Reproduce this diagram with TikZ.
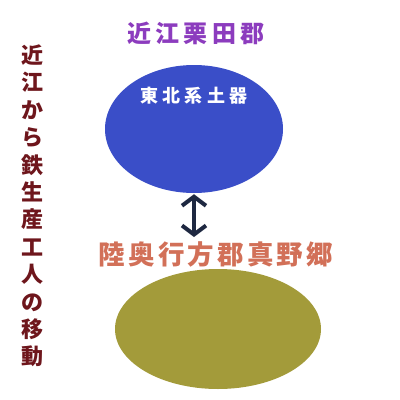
\documentclass[tikz,border=0pt]{standalone}
\usepackage{fontspec}
\newfontfamily\jp{Noto Sans CJK JP}
\newfontfamily\jptitle[LetterSpace=18]{Noto Sans CJK JP}
\newfontfamily\jpinner[LetterSpace=24]{Noto Sans CJK JP}
\newfontfamily\jpdest[LetterSpace=12]{Noto Sans CJK JP}
\usetikzlibrary{shapes.geometric,arrows.meta}
\definecolor{blueE}{RGB}{58,78,200}
\definecolor{oliveE}{RGB}{163,155,58}
\definecolor{titleC}{RGB}{140,60,190}
\definecolor{destC}{RGB}{210,112,88}
\definecolor{sideC}{RGB}{110,22,28}
\definecolor{arrowC}{RGB}{30,40,65}
\tikzset{
  blob/.style={ellipse, inner sep=0pt, draw=none},
  lab/.style={inner sep=0pt, anchor=center},
  link/.style={draw=arrowC, line width=4pt, {Straight Barb[length=9pt,width=24pt]}-{Straight Barb[length=9pt,width=24pt]}}
}
\begin{document}
\begin{tikzpicture}[x=1pt,y=-1pt]
\useasboundingbox[fill=white] (0,0) rectangle (400,400);
\node[blob, fill=blueE, minimum width=178pt, minimum height=128pt] (src) at (194,129) {};
\node[blob, fill=oliveE, minimum width=206pt, minimum height=120pt] (dst) at (218,329) {};
\node[lab, text=titleC, font=\jptitle\bfseries\fontsize{24}{24}\selectfont] (title) at (196,33) {近江栗田郡};
\node[lab, text=white, font=\jpinner\bfseries\fontsize{18}{18}\selectfont] (inner) at (194,96) {東北系土器};
\node[lab, text=destC, font=\jpdest\bfseries\fontsize{26.5}{26.5}\selectfont] (dest) at (216,254) {陸奥行方郡真野郷};
\node[lab, text=sideC, align=center, font=\jp\bfseries\fontsize{22}{27.4}\selectfont] (side) at (33,206) {近\\江\\か\\ら\\鉄\\生\\産\\工\\人\\の\\移\\動};
\draw[link, shorten <=1pt, shorten >=4pt] (src.south) -- (dest.north -| src.south);
\end{tikzpicture}
\end{document}
